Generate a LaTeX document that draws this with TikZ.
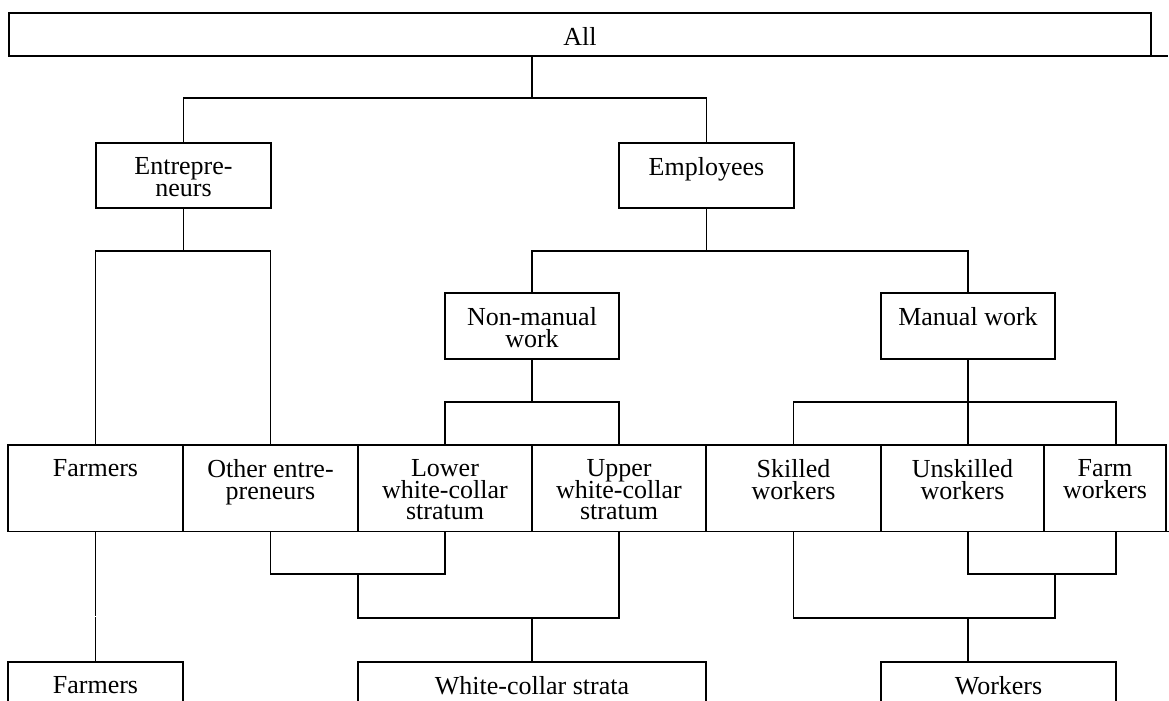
\documentclass[tikz,border=0pt]{standalone}
\usepackage{fontspec}
\setmainfont{Liberation Serif}
\newcommand\tightlines{\lineskiplimit=-100pt\relax\lineskip=0pt\relax}
\newcommand\mkbox[6]{%
  \node[box, minimum width={(#3-#1)*0.5pt}, minimum height={(#4-#2)*0.5pt}] (#5) at ({(#1+#3)/2},{(#2+#4)/2}) {};
  \node[txt] (#5-t) at ([yshift=-7pt]#5.north) {#6};}
\begin{document}
\begin{tikzpicture}[x=0.5pt,y=-0.5pt,
  box/.style={draw, line width=0.95pt, inner sep=0pt, outer sep=0pt, rectangle},
  txt/.style={inner sep=0pt, anchor=north, align=center, font=\fontsize{13}{10.85}\selectfont\tightlines},
  conn/.style={line width=0.95pt}]
\useasboundingbox (0,0) rectangle (1169,701);
\clip (0,0) rectangle (1169,701);
% boxes
\mkbox{9}{13}{1151}{56}{all}{All}
\mkbox{96}{143}{271}{208}{ent}{Entrepre-\\neurs}
\mkbox{619}{143}{794}{208}{emp}{Employees}
\mkbox{445}{293}{619}{359}{nm}{Non-manual\\work}
\mkbox{881}{293}{1055}{359}{mw}{Manual work}
\mkbox{8}{445}{183}{531.5}{farmA}{Farmers}
\mkbox{183}{445}{358}{531.5}{oth}{Other entre-\\preneurs}
\mkbox{358}{445}{532}{531.5}{low}{Lower\\white-collar\\stratum}
\mkbox{532}{445}{706}{531.5}{upp}{Upper\\white-collar\\stratum}
\mkbox{706}{445}{881}{531.5}{sk}{Skilled\\workers}
\mkbox{881}{445}{1044}{531.5}{unsk}{Unskilled\\workers}
\mkbox{1044}{445}{1166}{531.5}{fw}{Farm\\workers}
\mkbox{8}{662}{183}{730}{farmB}{Farmers}
\mkbox{358}{662}{706}{730}{wcs}{White-collar strata}
\mkbox{881}{662}{1116}{730}{wrk}{Workers}
% small extensions of bottom edges
\coordinate (allx) at (1168,56);
\draw[conn] (all.south east) -- (allx);
\coordinate (fwx) at (1169,531.5);
\draw[conn] (fw.south east) -- (fwx);
% junctions
\coordinate (j1) at (532,98);
\coordinate (j2) at (183.5,251);
\coordinate (j3) at (706.5,251);
\coordinate (j4) at (532,402);
\coordinate (j5) at (968,402);
\coordinate (fwc) at (1116,445);
\coordinate (j6) at (357.75,574);
\coordinate (j7) at (532,618);
\coordinate (j8) at (1055,574);
\coordinate (j9) at (968,618);
\coordinate (g1) at (95.5,616.2);
\coordinate (g2) at (95.5,617.4);
% connectors
\draw[conn] (all.south -| j1) -- (j1);
\draw[conn] (ent.north) |- (j1) -| (emp.north);
\draw[conn] (ent.south) -- (j2);
\draw[conn] (farmA.north) |- (j2) -| (oth.north);
\draw[conn] (emp.south) -- (j3);
\draw[conn] (nm.north) |- (j3) -| (mw.north);
\draw[conn] (nm.south) -- (j4);
\draw[conn] (low.north) |- (j4) -| (upp.north);
\draw[conn] (mw.south) -- (unsk.north -| mw.south);
\draw[conn] (sk.north) |- (j5) -| (fwc);
\draw[conn] (farmA.south) -- (g1);
\draw[conn] (g2) -- (farmB.north);
\draw[conn] (oth.south) |- (j6) -| (low.south);
\draw[conn] (j6) |- (j7) -| (upp.south);
\draw[conn] (j7) -- (wcs.north);
\draw[conn] (unsk.south -| mw.south) |- (j8) -| (fw.south -| fwc);
\draw[conn] (sk.south) |- (j8 |- j9) -- (j8);
\draw[conn] (j9) -- (wrk.north -| j9);
\end{tikzpicture}
\end{document}
